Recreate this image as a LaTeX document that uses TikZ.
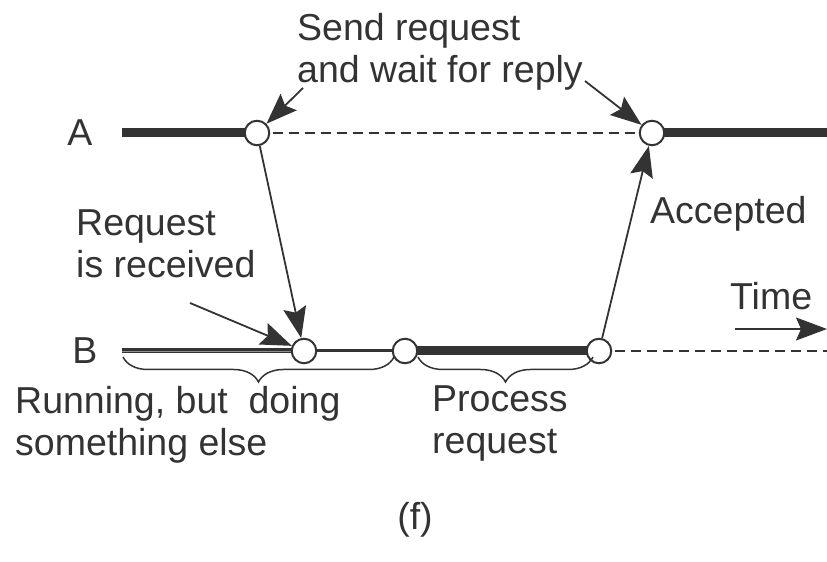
\documentclass[tikz,border=0pt]{standalone}
\usepackage{fontspec}
\setmainfont{Liberation Sans}
\usetikzlibrary{arrows.meta,decorations.pathreplacing,backgrounds}
\definecolor{ink}{HTML}{333333}
\begin{document}
\begin{tikzpicture}[x=1pt,y=1pt,
  every node/.style={text=ink},
  lbl/.style={font=\fontsize{37.5}{42}\selectfont, inner sep=0pt, align=left},
  event/.style={circle, draw=ink, fill=white, line width=2pt, minimum size=24.5pt, inner sep=0pt},
  busy/.style={draw=ink, line width=9pt},
  waiting/.style={draw=ink, line width=2.2pt, dash pattern=on 10pt off 6pt},
  msg/.style={draw=ink, line width=1.8pt, -{Stealth[length=31pt,width=23pt,inset=5pt]}},
  bracestyle/.style={draw=ink, line width=1.5pt, decorate, decoration={brace, amplitude=25pt}}
]
\useasboundingbox (0,0) rectangle (827,562);

% events on the two time lines
\node[event] (a1) at (257,429) {};
\node[event] (a2) at (652,429) {};
\node[event] (b1) at (304,211) {};
\node[event] (b2) at (405,211) {};
\node[event] (b3) at (599,211) {};
\coordinate (astart) at (122,429);
\coordinate (aend) at (827,429);
\coordinate (bstart) at (122,211);
\coordinate (bend) at (827,211);

% time lines of A and B
\begin{scope}[on background layer]
  \draw[busy] (astart) -- (a1.center);
  \draw[busy] (a2.center) -- (aend);
  \draw[waiting] (a1.center) -- (a2.center);
  \draw[ink, line width=5pt] (bstart) -- (b1.center);
  \draw[ink!55, line width=0.8pt] (bstart) -- (b1.center);
  \draw[ink, line width=3pt] (b1.center) -- (b2.center);
  \draw[busy] (b2.center) -- (b3.center);
  \draw[waiting] (b3.center) -- (bend);
\end{scope}

% labels
\node[lbl] (alab) at (80,429) {A};
\node[lbl] (blab) at (85,211) {B};
\node[lbl, anchor=north west] (send) at (297,549) {Send request\\and wait for reply};
\node[lbl, anchor=north west] (recv) at (76,352) {Request\\is received};
\node[lbl, anchor=north west] (acc) at (650,366) {Accepted};
\node[lbl, anchor=north west] (time) at (730,280) {Time};
\node[lbl, anchor=north west] (run) at (15,176) {Running, but\ \ doing\\something else};
\node[lbl, anchor=north west] (proc) at (432,176) {Process\\request};
\node[lbl] (f) at (415,42) {(f)};

% messages and pointers
\coordinate (sendtail1) at (303,474);
\coordinate (sendtail2) at (585,481);
\coordinate (recvtail) at (190,259);
\coordinate (timetail) at (735,233);
\coordinate (timehead) at (827,233);
\draw[msg] (sendtail1) -- (a1);
\draw[msg] (sendtail2) -- (a2);
\draw[msg] (recvtail) -- (b1);
\draw[msg] (a1) -- (b1);
\draw[msg] (b3) -- (a2);
\draw[msg] (timetail) -- (timehead);

% braces under B
\draw[bracestyle] (394,205) -- (123,205);
\draw[bracestyle] (593,205) -- (418,205);
\end{tikzpicture}
\end{document}
